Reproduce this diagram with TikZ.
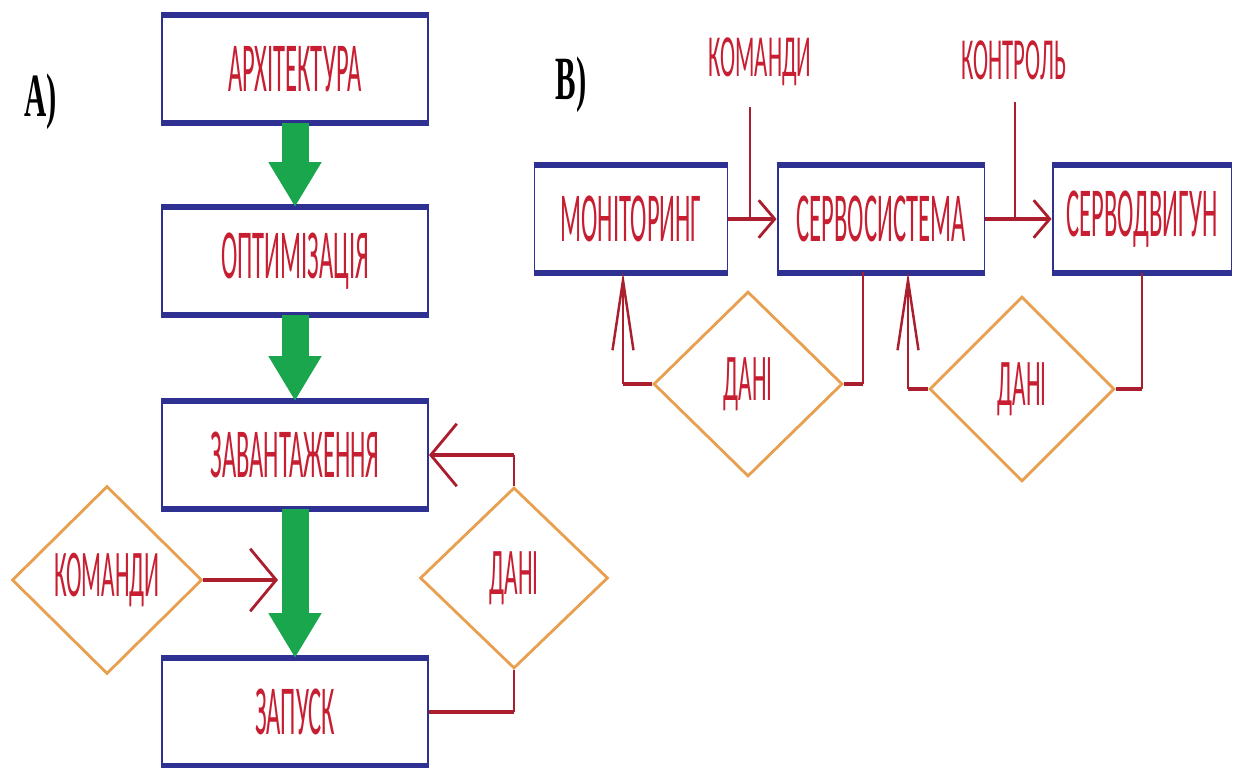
\documentclass[tikz,border=0pt]{standalone}
\usepackage{fontspec}
\usetikzlibrary{arrows.meta,shapes.geometric}
\newfontfamily\lblfont[FakeStretch=0.35]{Carlito}
\newfontfamily\toplblfont[FakeStretch=0.38]{Carlito}
\newfontfamily\headfont[FakeStretch=0.5]{Liberation Serif}
\definecolor{boxblue}{RGB}{46,49,146}
\definecolor{txtred}{RGB}{200,30,50}
\definecolor{linkred}{RGB}{170,30,45}
\definecolor{diaorange}{RGB}{232,160,80}
\definecolor{flowgreen}{RGB}{26,166,76}
\tikzset{
  blockbox/.style={draw=boxblue, line width=1.1pt, minimum height=2.12cm, inner sep=0pt,
    text=txtred, font=\lblfont\fontsize{40}{42}\selectfont},
  boxedge/.style={draw=boxblue, line width=3.4pt},
  datadia/.style={diamond, draw=diaorange, line width=1.6pt, inner sep=0pt,
    text=txtred, font=\lblfont\fontsize{38}{40}\selectfont},
  toplabel/.style={text=txtred, font=\toplblfont\fontsize{34}{36}\selectfont},
  headlabel/.style={font=\headfont\bfseries\fontsize{35}{37}\selectfont},
  greenarrow/.style={draw=flowgreen, line width=0.54cm, -{Triangle[length=0.9cm,width=1cm]}},
  redthick/.style={draw=linkred, line width=2.8pt},
  redthin/.style={draw=linkred, line width=1.1pt},
  wideback/.style={-{Straight Barb[length=0.52cm,width=1.25cm,line width=1.6pt]}},
  narrowback/.style={-{Straight Barb[length=0.32cm,width=0.75cm,line width=1.6pt]}},
  tallback/.style={-{Straight Barb[length=1.4cm,width=0.42cm,line width=1.4pt]}},
}
\begin{document}
\begin{tikzpicture}[x=0.02cm,y=-0.02cm]
    \useasboundingbox[fill=white] (0,0) rectangle (1236,767);
    % Part A: pipeline
    \node[headlabel] (heada) at (41,102) {А)};
    \node[blockbox, minimum width=5.32cm] (arch) at (295,69) {АРХІТЕКТУРА};
    \node[blockbox, minimum width=5.32cm] (opt) at (295,261) {ОПТИМІЗАЦІЯ};
    \node[blockbox, minimum width=5.32cm] (load) at (295,455) {ЗАВАНТАЖЕННЯ};
    \node[blockbox, minimum width=5.32cm] (launch) at (295,712) {ЗАПУСК};
    \node[datadia, minimum width=3.8cm, minimum height=3.76cm] (cmda) at (107,580) {КОМАНДИ};
    \node[datadia, minimum width=3.76cm, minimum height=3.62cm] (dataa) at (514,578) {ДАНІ};
    % Thick top and bottom edges
    \draw[boxedge] (arch.north west) -- (arch.north east) (arch.south west) -- (arch.south east);
    \draw[boxedge] (opt.north west) -- (opt.north east) (opt.south west) -- (opt.south east);
    \draw[boxedge] (load.north west) -- (load.north east) (load.south west) -- (load.south east);
    \draw[boxedge] (launch.north west) -- (launch.north east) (launch.south west) -- (launch.south east);
    % Green flow
    \draw[greenarrow] (arch.south) -- (opt.north);
    \draw[greenarrow] (opt.south) -- (load.north);
    \draw[greenarrow] (load.south) -- (launch.north);
    % Red links
    \coordinate (cmdhit) at (278,580);
    \draw[redthick, wideback] (cmda.east) -- (cmdhit);
    \draw[redthin] (dataa.north) -- (dataa.north |- load.east);
    \draw[redthick, wideback] (dataa.north |- load.east) -- (load.east);
    \draw[redthick] (launch.east) -- (launch.east -| dataa.south);
    \draw[redthin] (launch.east -| dataa.south) -- (dataa.south);
    % Part B: servo loop
    \node[headlabel] (headb) at (571,85) {В)};
    \node[blockbox, minimum width=3.86cm] (mon) at (631,219) {МОНІТОРИНГ};
    \node[blockbox, minimum width=4.14cm] (serv) at (881,219) {СЕРВОСИСТЕМА};
    \node[blockbox, minimum width=3.58cm] (motor) at (1142,219) {СЕРВОДВИГУН};
    \node[datadia, minimum width=3.78cm, minimum height=3.7cm] (datab) at (748,384) {ДАНІ};
    \node[datadia, minimum width=3.7cm, minimum height=3.7cm] (datac) at (1022,389) {ДАНІ};
    \node[toplabel] (cmdb) at (760,62) {КОМАНДИ};
    \node[toplabel] (ctrl) at (1014,60) {КОНТРОЛЬ};
    \draw[boxedge] (mon.north west) -- (mon.north east) (mon.south west) -- (mon.south east);
    \draw[boxedge] (serv.north west) -- (serv.north east) (serv.south west) -- (serv.south east);
    \draw[boxedge] (motor.north west) -- (motor.north east) (motor.south west) -- (motor.south east);
    % Forward path
    \draw[redthick, narrowback] (mon.east) -- (serv.west);
    \draw[redthick, narrowback] (serv.east) -- (motor.west);
    \coordinate (cmdtop) at (750,107);
    \coordinate (ctrltop) at (1015,102);
    \draw[redthin] (cmdtop) -- (cmdtop |- mon.east);
    \draw[redthin] (ctrltop) -- (ctrltop |- serv.east);
    % Feedback through data
    \coordinate (monin) at (623,272);
    \coordinate (servout) at (863,272);
    \coordinate (servin) at (908,272);
    \draw[redthick] (datab.west) -- (datab.west -| monin);
    \draw[redthin, tallback] (datab.west -| monin) -- (monin);
    \draw[redthin] (servout) -- (servout |- datab.east);
    \draw[redthick] (servout |- datab.east) -- (datab.east);
    \draw[redthick] (datac.west) -- (datac.west -| servin);
    \draw[redthin, tallback] (datac.west -| servin) -- (servin);
    \draw[redthin] (motor.south) -- (motor.south |- datac.east);
    \draw[redthick] (motor.south |- datac.east) -- (datac.east);
  \end{tikzpicture}
\end{document}
